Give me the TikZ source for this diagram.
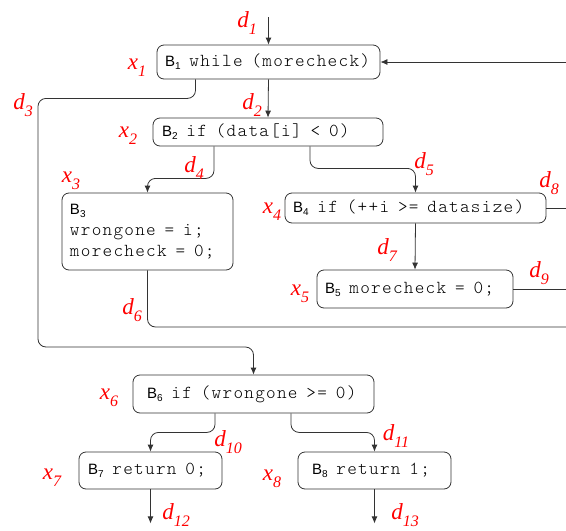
\documentclass[tikz,border=0pt]{standalone}
\usepackage{fontspec}
\usetikzlibrary{arrows.meta}
\newfontfamily\labelfont{Liberation Serif}
\newfontfamily\blockfont{Liberation Sans}
\newfontfamily\codefont[LetterSpace=7]{lmmonolt10-regular.otf}
% red variable labels such as d_1, x_1
\newcommand{\lab}[2]{{\labelfont\itshape\fontsize{23}{23}\selectfont #1\raisebox{-7pt}{\fontsize{16}{16}\selectfont #2}}}
% block names B_i
\newcommand{\blk}[1]{{\blockfont\fontsize{15}{15}\selectfont B\raisebox{-3pt}{\fontsize{10}{10}\selectfont #1}}}
% program text, every space one full character cell wide
\newcommand{\code}[1]{{\codefont\fontsize{18.3}{21}\selectfont\spaceskip=8.9pt\relax #1}}
\tikzset{
  block/.style={draw=black!80, line width=0.8pt, rounded corners=7pt,
    inner ysep=0pt, align=left, font=\fontsize{18}{21}\selectfont},
  var/.style={text=red, inner sep=0pt},
  flow/.style={draw=black!80, line width=0.8pt, rounded corners=8pt},
  tip/.style={-{Latex[length=7pt,width=6pt]}}
}
\begin{document}
\begin{tikzpicture}[x=1pt,y=-1pt]
\useasboundingbox (0,0) rectangle (566,531);

% basic blocks
\node[block, inner xsep=8pt,  text width=207pt, minimum height=34pt] (B1) at (268.5,62)  {\blk{1}\code{ while (morecheck)}};
\node[block, inner xsep=9pt,  text width=212pt, minimum height=28pt] (B2) at (268,132)   {\blk{2}\code{ if (data[i] < 0)}};
\node[block, inner xsep=8pt,  text width=155pt, minimum height=77pt] (B3) at (147.5,231.5) {\blk{3}\\\code{wrongone = i;}\\\code{morecheck = 0;}};
\node[block, inner xsep=8pt,  text width=245pt, minimum height=30pt] (B4) at (415.5,208) {\blk{4}\code{ if (++i >= datasize)}};
\node[block, inner xsep=8pt,  text width=180pt, minimum height=38pt] (B5) at (415,289)   {\blk{5}\code{ morecheck = 0;}};
\node[block, inner xsep=14pt, text width=213pt, minimum height=38pt] (B6) at (253.5,394) {\blk{6}\code{ if (wrongone >= 0)}};
\node[block, inner xsep=9pt,  text width=125pt, minimum height=37pt] (B7) at (150.5,470.5) {\blk{7}\code{ return 0;}};
\node[block, inner xsep=14pt, text width=125pt, minimum height=37pt] (B8) at (374.5,470.5) {\blk{8}\code{ return 1;}};

% free ends of the edges
\coordinate (in1) at (268.5,17);
\coordinate (back) at (566,62);
\coordinate (left3) at (38,347);
\coordinate (out6) at (566,327);
\coordinate (out8) at (566,208);
\coordinate (out9) at (566,289);

% edges
\draw[flow,tip] (in1) -- (B1.north);
\draw[flow,tip] (back) -- (B1.east);
\draw[flow,tip] (B1.south) -- (B2.north);
\draw[flow,tip] ([xshift=-73pt]B1.south) -- ++(0,19) -| (left3) -| (B6.north);
\draw[flow,tip] ([xshift=-54pt]B2.south) -- ++(0,32) -| (B3.north);
\draw[flow,tip] ([xshift=42pt]B2.south) -- ++(0,22) -| (B4.north);
\draw[flow] (B3.south) |- (out6);
\draw[flow,tip] (B4.south) -- (B5.north);
\draw[flow] (B4.east) -- (out8);
\draw[flow] (B5.east) -- (out9);
\draw[flow,tip] ([xshift=-38.5pt]B6.south) -- ++(0,19) -| (B7.north);
\draw[flow,tip] ([xshift=37.5pt]B6.south) -- ++(0,19) -| (B8.north);
\draw[flow,tip] (B7.south) -- ++(0,34) coordinate (end7);
\draw[flow,tip] (B8.south) -- ++(0,34) coordinate (end8);

% variable labels
\node[var] (ld1)  at (247,23)  {\lab{d}{1}};
\node[var] (lx1)  at (137,68)  {\lab{x}{1}};
\node[var] (ld2)  at (252,105) {\lab{d}{2}};
\node[var] (lx2)  at (128,136) {\lab{x}{2}};
\node[var] (ld3)  at (23,105)  {\lab{d}{3}};
\node[var] (ld4)  at (194,168) {\lab{d}{4}};
\node[var] (ld5)  at (424,164) {\lab{d}{5}};
\node[var] (lx3)  at (71,181)  {\lab{x}{3}};
\node[var] (lx4)  at (272,212) {\lab{x}{4}};
\node[var] (ld8)  at (549,183) {\lab{d}{8}};
\node[var] (ld7)  at (387,250) {\lab{d}{7}};
\node[var] (lx5)  at (300,294) {\lab{x}{5}};
\node[var] (ld9)  at (539,273) {\lab{d}{9}};
\node[var] (ld6)  at (132,310) {\lab{d}{6}};
\node[var] (lx6)  at (109,398) {\lab{x}{6}};
\node[var] (ld10) at (228,442) {\lab{d}{10}};
\node[var] (ld11) at (396,436) {\lab{d}{11}};
\node[var] (lx7)  at (52,478)  {\lab{x}{7}};
\node[var] (lx8)  at (272,479) {\lab{x}{8}};
\node[var] (ld12) at (176,515) {\lab{d}{12}};
\node[var] (ld13) at (405,515) {\lab{d}{13}};
\end{tikzpicture}
\end{document}
